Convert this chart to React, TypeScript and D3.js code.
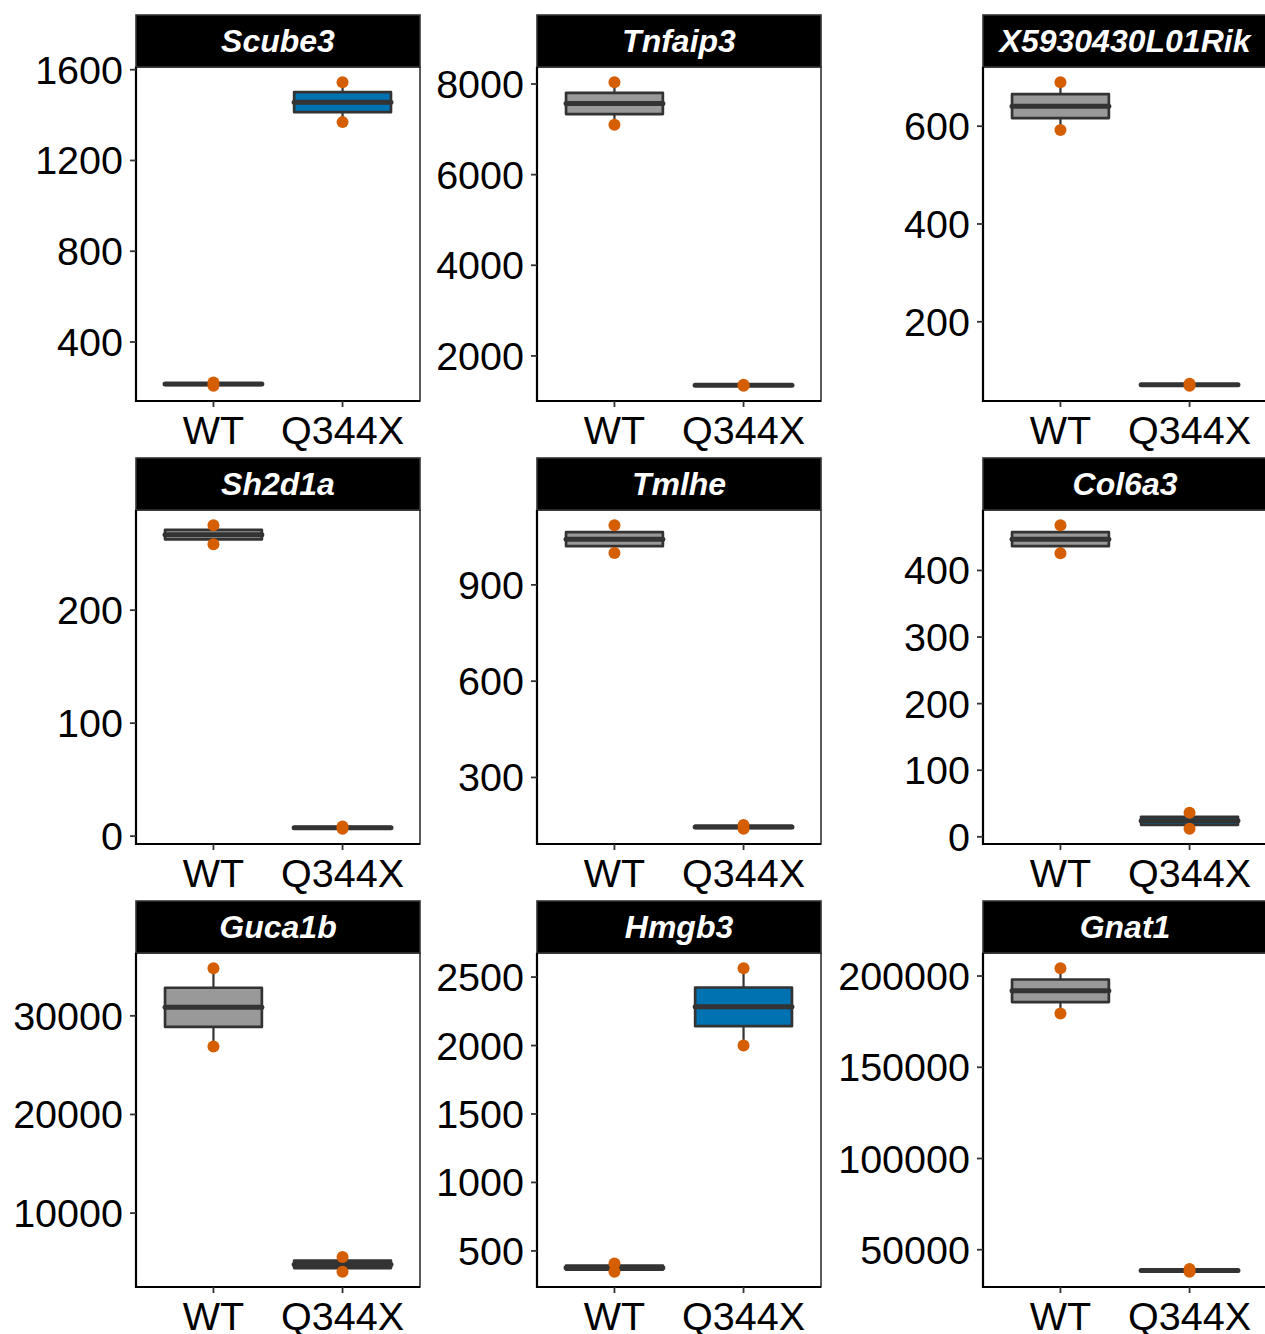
import React from "react";
import * as d3 from "d3";

const genes = ["Scube3", "Tnfaip3", "X5930430L01Rik", "Sh2d1a", "Tmlhe", "Col6a3", "Guca1b", "Hmgb3", "Gnat1"];
const groups = ["WT", "Q344X"];
const wtValues = [
  [207, 222], [7101, 8040], [592, 690], [258.4, 275.2], [999, 1086],
  [426, 468], [26890, 34830], [347, 408], [179500, 204300],
];
const mutValues = [
  [1369, 1545], [1340, 1362], [69, 73], [6.5, 8.5], [140, 152],
  [12, 36], [4050, 5550], [2000, 2565], [37900, 39400],
];
const tickValues = [
  [400, 800, 1200, 1600],
  [2000, 4000, 6000, 8000],
  [200, 400, 600],
  [0, 100, 200],
  [300, 600, 900],
  [0, 100, 200, 300, 400],
  [10000, 20000, 30000],
  [500, 1000, 1500, 2000, 2500],
  [50000, 100000, 150000, 200000],
];
const groupFill = ["#999999", "#0072B2"];

const COL_LEFT = [136, 537, 983];
const PANEL_W = 284;
const ROW_TOP = 15;
const ROW_PITCH = 443;
const STRIP_H = 52;
const PANEL_H = 334;
const FONT = "'Liberation Sans', Arial, Helvetica, sans-serif";

function Panel({ idx }: { idx: number }) {
  const col = idx % 3;
  const row = Math.floor(idx / 3);
  const left = COL_LEFT[col];
  const stripTop = ROW_TOP + row * ROW_PITCH;
  const top = stripTop + STRIP_H;
  const bottom = top + PANEL_H;
  const right = left + PANEL_W;
  const sets = [wtValues[idx], mutValues[idx]];
  const all = sets.flat();
  const lo = d3.min(all)!;
  const hi = d3.max(all)!;
  const pad = (hi - lo) * 0.05;
  const y = d3.scaleLinear().domain([lo - pad, hi + pad]).range([bottom, top]);
  const x = d3.scaleLinear().domain([0.4, 2.6]).range([left, right]);
  const bw = (x(1.375) - x(1));
  return (
    <g>
      <rect x={left} y={top} width={PANEL_W} height={PANEL_H} fill="#fff" stroke="#333333" strokeWidth={1.6} />
      <rect x={left} y={stripTop} width={PANEL_W} height={STRIP_H} fill="#000" stroke="#333333" strokeWidth={1.6} />
      <text x={(left + right) / 2} y={stripTop + STRIP_H / 2 + 11} textAnchor="middle" fill="#fff"
        fontFamily={FONT} fontWeight="bold" fontStyle="italic" fontSize={32}>{genes[idx]}</text>
      {sets.map((vals, g) => {
        const s = vals.slice().sort((a, b) => a - b);
        const q1 = d3.quantile(s, 0.25)!;
        const med = d3.quantile(s, 0.5)!;
        const q3 = d3.quantile(s, 0.75)!;
        const cx = x(g + 1);
        return (
          <g key={g}>
            <line x1={cx} x2={cx} y1={y(q3)} y2={y(s[s.length - 1])} stroke="#333333" strokeWidth={2.2} />
            <line x1={cx} x2={cx} y1={y(q1)} y2={y(s[0])} stroke="#333333" strokeWidth={2.2} />
            <rect x={cx - bw} y={y(q3)} width={bw * 2} height={Math.max(0, y(q1) - y(q3))}
              fill={groupFill[g]} stroke="#333333" strokeWidth={2.7} strokeLinejoin="round" />
            <line x1={cx - bw} x2={cx + bw} y1={y(med)} y2={y(med)} stroke="#333333" strokeWidth={5} strokeLinecap="round" />
            {s.map((v, i) => (
              <circle key={i} cx={cx} cy={y(v)} r={6} fill="#D55E00" />
            ))}
          </g>
        );
      })}
      <line x1={left} x2={left} y1={top} y2={bottom + 1} stroke="#000" strokeWidth={2.2} />
      <line x1={left - 1} x2={right} y1={bottom} y2={bottom} stroke="#000" strokeWidth={2.2} />
      {tickValues[idx].map((t) => (
        <g key={t}>
          <line x1={left - 6} x2={left} y1={y(t)} y2={y(t)} stroke="#333333" strokeWidth={1.8} />
          <text x={left - 13} y={y(t) + 14} textAnchor="end" fontFamily={FONT} fontSize={39.5} fill="#000">{t}</text>
        </g>
      ))}
      {groups.map((gname, g) => (
        <g key={gname}>
          <line x1={x(g + 1)} x2={x(g + 1)} y1={bottom} y2={bottom + 6} stroke="#333333" strokeWidth={1.8} />
          <text x={x(g + 1)} y={bottom + 43} textAnchor="middle" fontFamily={FONT} fontSize={39.5} fill="#000">{gname}</text>
        </g>
      ))}
    </g>
  );
}

export default function App() {
  return (
    <svg width={1265} height={1334} style={{ position: "absolute", left: 0, top: 0, background: "#fff" }}>
      <rect x={0} y={0} width={1265} height={1334} fill="#fff" />
      {genes.map((_, i) => <Panel key={i} idx={i} />)}
    </svg>
  );
}
